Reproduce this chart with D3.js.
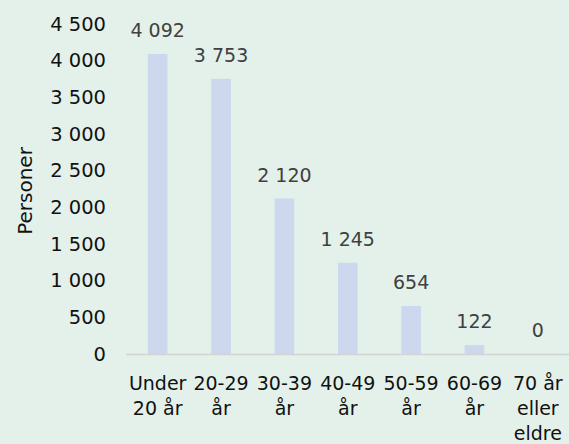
<!DOCTYPE html>
<html>
<head>
<meta charset="utf-8">
<script src="https://cdn.jsdelivr.net/npm/d3@7.9.0/dist/d3.min.js"></script>
<style>
  html, body { margin: 0; padding: 0; background: #e4f1ea; }
  svg { display: block; font-family: "DejaVu Sans", sans-serif; }
</style>
</head>
<body>
<svg id="chart" width="569" height="444"></svg>
<script>
const categories = ['Under 20 år', '20-29 år', '30-39 år', '40-49 år', '50-59 år', '60-69 år', '70 år eller eldre'];
const values = [4092, 3753, 2120, 1245, 654, 122, 0];
const yTicks = [0, 500, 1000, 1500, 2000, 2500, 3000, 3500, 4000, 4500];
const yLabel = 'Personer';

const W = 569, H = 444;
const margin = { top: 24, right: 0, bottom: 90, left: 126 };

const svg = d3.select('#chart');
svg.append('rect').attr('width', W).attr('height', H).attr('fill', '#e4f1ea');

const fmt = n => d3.format(',')(n).replace(/,/g, ' ');

const x = d3.scaleBand()
  .domain(categories)
  .range([margin.left, W + 0.5])
  .paddingInner(0.69)
  .paddingOuter(0.345);

const y = d3.scaleLinear()
  .domain([0, 4500])
  .range([H - margin.bottom, margin.top]);

// y tick labels (no axis line)
const yAxis = svg.append('g')
  .attr('transform', `translate(${margin.left - 20},0)`)
  .call(d3.axisLeft(y).tickValues(yTicks).tickFormat(fmt).tickSize(0).tickPadding(0));
yAxis.select('.domain').remove();
yAxis.selectAll('text')
  .attr('font-family', '"DejaVu Sans", sans-serif')
  .attr('font-size', 19.5)
  .attr('fill', '#111');

// bars
svg.append('g').selectAll('rect')
  .data(values)
  .join('rect')
  .attr('x', (d, i) => x(categories[i]))
  .attr('y', d => y(d))
  .attr('width', x.bandwidth())
  .attr('height', d => y(0) - y(d))
  .attr('fill', '#cdd8ef');

// baseline
svg.append('line')
  .attr('x1', margin.left).attr('x2', W)
  .attr('y1', y(0) + 0.5).attr('y2', y(0) + 0.5)
  .attr('stroke', '#d3d3d3').attr('stroke-width', 1.5);

// value labels
svg.append('g').selectAll('text')
  .data(values)
  .join('text')
  .attr('x', (d, i) => x(categories[i]) + x.bandwidth() / 2)
  .attr('y', d => y(d) - 17)
  .attr('text-anchor', 'middle')
  .attr('font-size', 19)
  .attr('fill', '#404040')
  .text(d => fmt(d));

// x category labels with wrapping
const step = x.step();
const measure = svg.append('text').attr('font-size', 19).attr('visibility', 'hidden');
function wrap(label) {
  const words = label.split(' ');
  const lines = [];
  let cur = '';
  words.forEach(w => {
    const t = cur ? cur + ' ' + w : w;
    measure.text(t);
    if (cur && measure.node().getComputedTextLength() > step - 2) {
      lines.push(cur);
      cur = w;
    } else cur = t;
  });
  if (cur) lines.push(cur);
  return lines;
}

const xl = svg.append('g').selectAll('text')
  .data(categories)
  .join('text')
  .attr('x', d => x(d) + x.bandwidth() / 2)
  .attr('y', y(0) + 36)
  .attr('text-anchor', 'middle')
  .attr('font-size', 19)
  .attr('fill', '#111');
xl.each(function (d) {
  const el = d3.select(this);
  wrap(d).forEach((line, i) => {
    el.append('tspan')
      .attr('x', x(d) + x.bandwidth() / 2)
      .attr('dy', i === 0 ? 0 : 25)
      .text(line);
  });
});
measure.remove();

// y axis title
svg.append('text')
  .attr('transform', `translate(32,${(y(0) + y(4500)) / 2 + 2}) rotate(-90)`)
  .attr('text-anchor', 'middle')
  .attr('font-size', 20)
  .attr('fill', '#111')
  .text(yLabel);
</script>
</body>
</html>
